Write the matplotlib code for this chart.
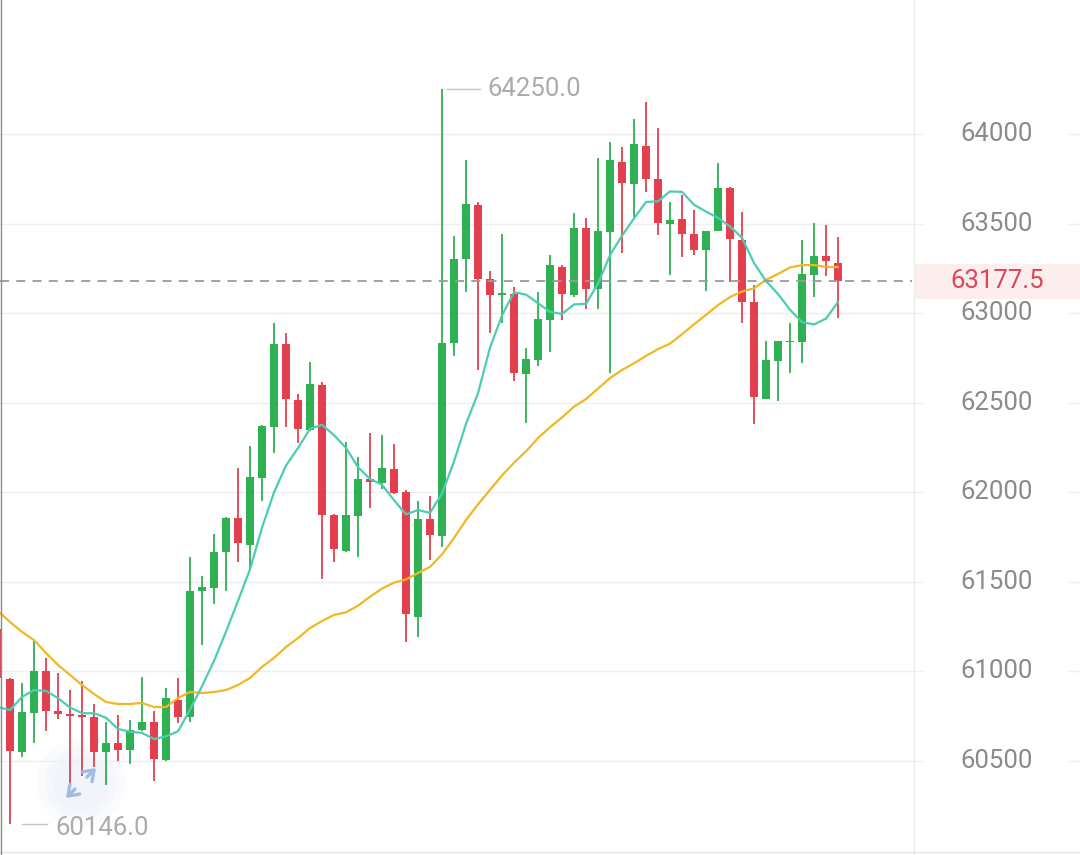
import numpy as np
import matplotlib
matplotlib.use("Agg")
import matplotlib.pyplot as plt
from matplotlib.patches import Rectangle, Ellipse, FancyArrowPatch
from matplotlib.transforms import blended_transform_factory

plt.rcParams['font.family'] = ['Roboto', 'DejaVu Sans']

# ---------------- data ----------------
opens = [61237, 60958, 60550, 60768, 61002, 60779, 60762, 60757, 60745, 60550,
         60600, 60561, 60673, 60717, 60505, 60840, 60745, 61449, 61466, 61667,
         61856, 61706, 62080, 62364, 62828, 62515, 62348, 62599, 61873, 61672,
         61867, 62074, 62052, 62130, 62001, 61304, 61851, 61756, 62833, 63302,
         63604, 63191, 63101, 63107, 62660, 62738, 62962, 63258, 63101, 63475,
         63135, 63453, 63844, 63721, 63933, 63749, 63498, 63525, 63442, 63352,
         63458, 63699, 63408, 63062, 62521, 62733, 62839, 62839, 63213, 63319,
         63280]
highs = [61265, 60963, 60935, 61175, 61075, 60991, 60896, 60946, 60818, 60717,
         60757, 60729, 60969, 60779, 60907, 60963, 61639, 61533, 61767, 61862,
         62135, 62258, 62375, 62945, 62889, 62549, 62727, 62616, 61879, 62281,
         62197, 62331, 62320, 62269, 62013, 61951, 61979, 64250, 63431, 63855,
         63620, 63235, 63442, 63146, 62805, 63118, 63325, 63269, 63559, 63531,
         63866, 63955, 63927, 64084, 64179, 64033, 63620, 63659, 63576, 63458,
         63838, 63704, 63565, 63157, 62844, 62844, 62945, 63408, 63503, 63492,
         63425]
lows = [60941, 60146, 60522, 60600, 60667, 60734, 60349, 60416, 60466, 60366,
        60500, 60483, 60667, 60388, 60500, 60712, 60717, 61147, 61376, 61449,
        61611, 61566, 61951, 62219, 62364, 62275, 62342, 61516, 61611, 61667,
        61639, 61912, 62018, 61990, 61164, 61192, 61622, 61694, 62761, 63118,
        62683, 62889, 62945, 62621, 62387, 62705, 62783, 62962, 63090, 63023,
        63023, 62666, 63336, 63537, 63676, 63436, 63213, 63313, 63325, 63124,
        63458, 63174, 62945, 62381, 62521, 62509, 62666, 62722, 63090, 63207,
        62973]
closes = [60963, 60556, 60773, 61002, 60779, 60762, 60751, 60745, 60550, 60600,
          60561, 60673, 60717, 60511, 60851, 60745, 61449, 61471, 61667, 61856,
          61717, 62085, 62370, 62828, 62521, 62353, 62604, 61873, 61683, 61873,
          62074, 62057, 62135, 61996, 61320, 61851, 61761, 62833, 63302, 63609,
          63191, 63101, 63112, 62666, 62744, 62967, 63269, 63107, 63475, 63135,
          63458, 63855, 63726, 63944, 63749, 63503, 63520, 63442, 63352, 63458,
          63699, 63414, 63062, 62532, 62738, 62844, 62844, 63218, 63319, 63291,
          63177.5]
# moving-average values before enough candles are on screen
ma7_head = [60801, 60784, 60857, 60896, 60891, 60851]
ma30_head = [61337, 61276, 61220, 61175, 61103, 61036, 60980, 60924, 60874, 60829,
             60818, 60818, 60824, 60801, 60801, 60851, 60885, 60879, 60885, 60896,
             60924, 60963, 61025, 61075, 61136, 61186, 61242, 61281, 61315]
y_ticks = [60500, 61000, 61500, 62000, 62500, 63000, 63500, 64000]
last_price = 63177.5

# ---------------- derived ----------------
o = np.array(opens, float); h = np.array(highs, float)
l = np.array(lows, float); c = np.array(closes, float)
n = len(c)
idx = np.arange(n)

def moving_average(vals, k, head):
    out = np.array(head + [np.nan] * (len(vals) - len(head)), float)
    for i in range(len(head), len(vals)):
        out[i] = vals[i - k + 1:i + 1].mean()
    return out

ma7 = moving_average(c, 7, ma7_head)
ma30 = moving_average(c, 30, ma30_head)

# ---------------- figure ----------------
W, H = 1080, 855
fig = plt.figure(figsize=(W / 100, H / 100), dpi=100)
fig.patch.set_facecolor('white')
ax = fig.add_axes([0, 0, 912 / W, 1])
ax.set_xlim(2 / 12, 914 / 12)
ax.set_ylim(59975, 64748)
ax.axis('off')

GREEN = '#2fb053'
RED = '#e3404f'
grid_c = '#efefef'

for t in y_ticks:
    ax.axhline(t, color=grid_c, lw=1.0, zorder=0)

# very faint soft glow of the expand button (under the candles)
for r, a in [(44, 0.25), (36, 0.35), (28, 0.45)]:
    ax.add_patch(Ellipse((81 / W, 1 - 783 / H), 2 * r / W, 2 * r / H,
                         transform=fig.transFigure, facecolor='#eef2fb', alpha=a,
                         edgecolor='none', zorder=0.5))

# candles
bw = 0.62
for i in idx:
    col = GREEN if c[i] >= o[i] else RED
    ax.vlines(i, l[i], h[i], color=col, lw=1.3, zorder=2)
    bot = min(o[i], c[i]); ht = max(abs(c[i] - o[i]), 8)
    if abs(c[i] - o[i]) < 8:
        bot = (o[i] + c[i]) / 2 - 4
    ax.add_patch(Rectangle((i - bw / 2, bot), bw, ht, facecolor=col,
                           edgecolor='none', zorder=3))

# moving averages
ax.plot(idx, ma30, color='#f1b824', lw=1.6, zorder=4, solid_capstyle='round')
ax.plot(idx, ma7, color='#4ccdb2', lw=1.6, zorder=4, solid_capstyle='round')

# current price dashed line
ax.axhline(last_price, color='#9a9a9a', lw=1.3, ls=(0, (5, 4)), zorder=5)

# high / low markers
ih = int(np.argmax(h)); il = int(np.argmin(l))
ax.plot([ih + 0.42, ih + 3.17], [h[ih], h[ih]], color='#c4c4c4', lw=1.0)
ax.text(ih + 3.75, h[ih], f"{h[ih]:.1f}", color='#ababab', fontsize=18.5,
        va='center', ha='left')
ax.plot([il + 1.0, il + 3.1], [l[il], l[il]], color='#c4c4c4', lw=1.0)
ax.text(il + 3.75, l[il] - 20, f"{l[il]:.1f}", color='#ababab', fontsize=18.5,
        va='center', ha='left')

# expand button arrows
for (x0, y0, x1, y1) in [(85, 779, 98, 766), (77, 787, 64, 800)]:
    fig.add_artist(FancyArrowPatch((x0 / W, 1 - y0 / H), (x1 / W, 1 - y1 / H),
                                   transform=fig.transFigure,
                                   arrowstyle='->,head_length=7,head_width=5',
                                   color='#a3bbe4', lw=2.4, zorder=6))

# right price scale
tr = blended_transform_factory(fig.transFigure, ax.transData)
fig.add_artist(plt.Line2D([913.5 / W, 913.5 / W], [0, 1], color='#ececec', lw=1.0,
                          transform=fig.transFigure))
for t in y_ticks:
    fig.add_artist(plt.Line2D([912 / W, 923 / W], [t, t], color=grid_c, lw=1.0, transform=tr))
    fig.add_artist(plt.Line2D([1068 / W, 1.0], [t, t], color=grid_c, lw=1.0, transform=tr))
    fig.text(997 / W, t, f"{t}", transform=tr, ha='center', va='center',
             fontsize=18.5, color='#8a8a8a')

box_h = 35 * (64748 - 59975) / H
fig.add_artist(Rectangle((915 / W, last_price - box_h / 2), (W - 915) / W, box_h,
                         transform=tr, facecolor='#fdeeee', edgecolor='none', zorder=1))
fig.text(997 / W, last_price, f"{last_price:.1f}", transform=tr, ha='center',
         va='center', fontsize=18.5, color='#d9475a', zorder=3)

# bottom and left borders
fig.add_artist(plt.Line2D([0, 1], [1 - 852 / H, 1 - 852 / H], color='#e6e6e6', lw=1.0,
                          transform=fig.transFigure))
fig.add_artist(plt.Line2D([0.5 / W, 0.5 / W], [0, 1], color='#8a8a8a', lw=1.0,
                          transform=fig.transFigure))

fig.savefig('out.png', dpi=100, facecolor='white')
